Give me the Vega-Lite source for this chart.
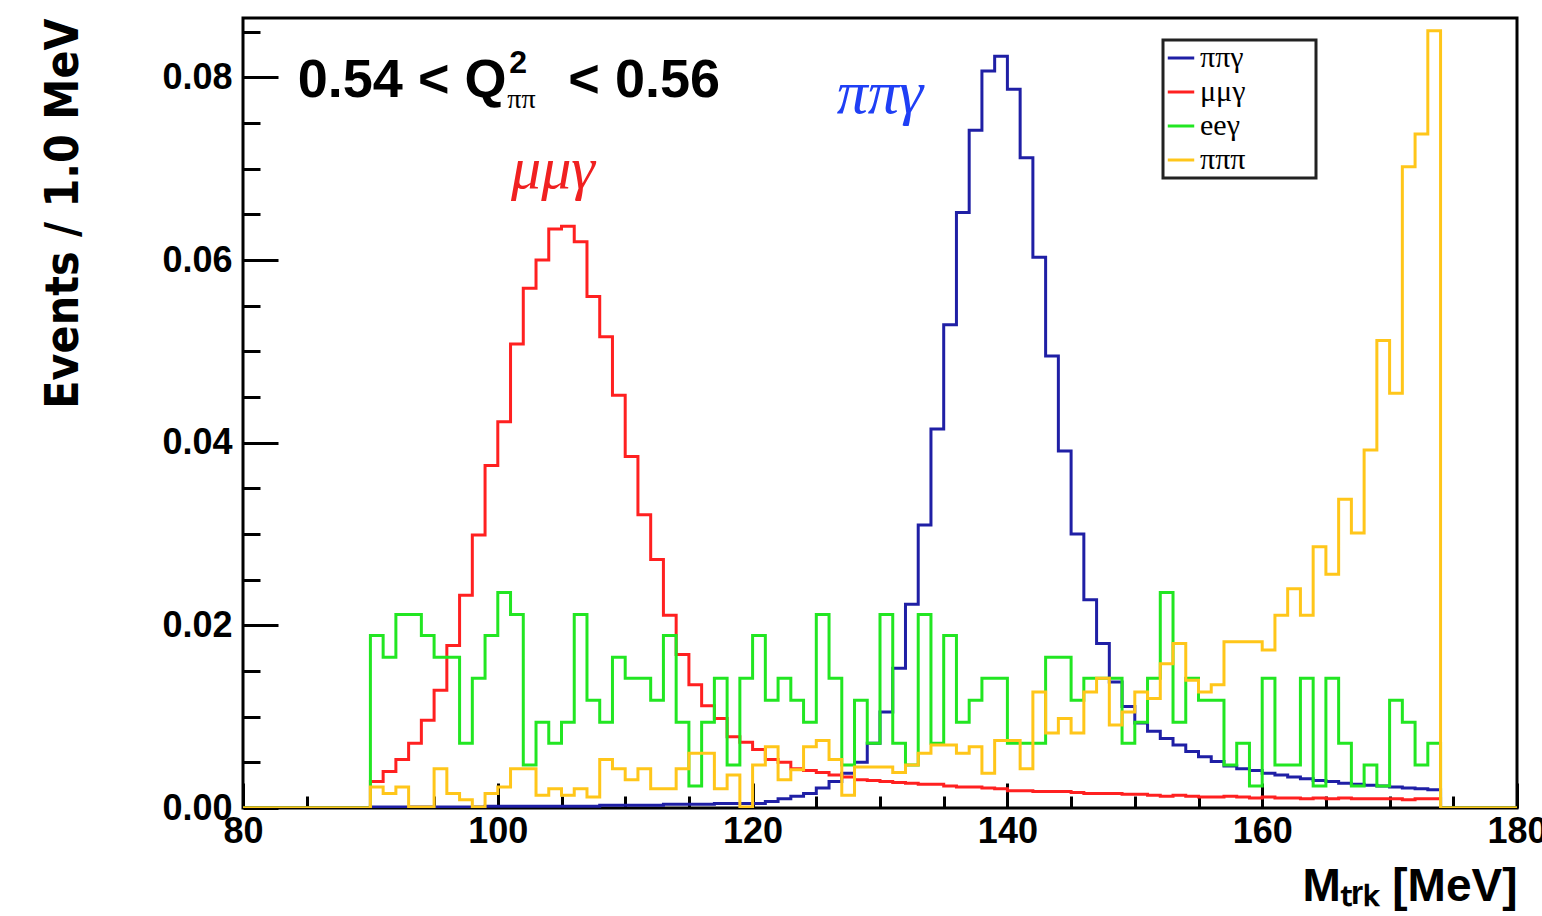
{
 "$schema": "https://vega.github.io/schema/vega-lite/v6.json",
 "width": 1274,
 "height": 790,
 "autosize": {"type": "none"},
 "padding": {"left": 243, "top": 18, "right": 25, "bottom": 108},
 "background": "white",
 "config": {"view": {"stroke": "black", "strokeWidth": 3}, "font": "Liberation Sans", "legend": {"strokeWidth": 3}},
 "datasets": {
  "hist": [
   {"x":80,"pipig":0,"mumug":0,"eeg":0,"pipipi":0},
   {"x":90,"pipig":0.0001,"mumug":0.0029,"eeg":0.0189,"pipipi":0.0023},
   {"x":91,"pipig":0.0001,"mumug":0.0040,"eeg":0.0165,"pipipi":0.0016},
   {"x":92,"pipig":0.0001,"mumug":0.0053,"eeg":0.0212,"pipipi":0.0023},
   {"x":93,"pipig":0.0001,"mumug":0.0071,"eeg":0.0212,"pipipi":0.0001},
   {"x":94,"pipig":0.0001,"mumug":0.0096,"eeg":0.0189,"pipipi":0.0001},
   {"x":95,"pipig":0.0001,"mumug":0.0129,"eeg":0.0165,"pipipi":0.0043},
   {"x":96,"pipig":0.0001,"mumug":0.0178,"eeg":0.0165,"pipipi":0.0016},
   {"x":97,"pipig":0.0001,"mumug":0.0233,"eeg":0.0071,"pipipi":0.0009},
   {"x":98,"pipig":0.0001,"mumug":0.0299,"eeg":0.0142,"pipipi":0.0001},
   {"x":99,"pipig":0.0002,"mumug":0.0375,"eeg":0.0189,"pipipi":0.0016},
   {"x":100,"pipig":0.0002,"mumug":0.0423,"eeg":0.0236,"pipipi":0.0023},
   {"x":101,"pipig":0.0002,"mumug":0.0508,"eeg":0.0212,"pipipi":0.0043},
   {"x":102,"pipig":0.0002,"mumug":0.0569,"eeg":0.0047,"pipipi":0.0043},
   {"x":103,"pipig":0.0002,"mumug":0.0600,"eeg":0.0094,"pipipi":0.0014},
   {"x":104,"pipig":0.0002,"mumug":0.0634,"eeg":0.0071,"pipipi":0.0021},
   {"x":105,"pipig":0.0002,"mumug":0.0637,"eeg":0.0094,"pipipi":0.0014},
   {"x":106,"pipig":0.0002,"mumug":0.0620,"eeg":0.0212,"pipipi":0.0021},
   {"x":107,"pipig":0.0002,"mumug":0.0560,"eeg":0.0118,"pipipi":0.0012},
   {"x":108,"pipig":0.0003,"mumug":0.0516,"eeg":0.0094,"pipipi":0.0053},
   {"x":109,"pipig":0.0003,"mumug":0.0452,"eeg":0.0165,"pipipi":0.0043},
   {"x":110,"pipig":0.0003,"mumug":0.0385,"eeg":0.0142,"pipipi":0.0031},
   {"x":111,"pipig":0.0003,"mumug":0.0321,"eeg":0.0142,"pipipi":0.0043},
   {"x":112,"pipig":0.0003,"mumug":0.0272,"eeg":0.0118,"pipipi":0.0021},
   {"x":113,"pipig":0.0004,"mumug":0.0211,"eeg":0.0189,"pipipi":0.0021},
   {"x":114,"pipig":0.0004,"mumug":0.0168,"eeg":0.0094,"pipipi":0.0043},
   {"x":115,"pipig":0.0004,"mumug":0.0135,"eeg":0.0024,"pipipi":0.0060},
   {"x":116,"pipig":0.0004,"mumug":0.0112,"eeg":0.0094,"pipipi":0.0060},
   {"x":117,"pipig":0.0005,"mumug":0.0098,"eeg":0.0142,"pipipi":0.0021},
   {"x":118,"pipig":0.0005,"mumug":0.0078,"eeg":0.0047,"pipipi":0.0036},
   {"x":119,"pipig":0.0005,"mumug":0.0072,"eeg":0.0142,"pipipi":0.0001},
   {"x":120,"pipig":0.0005,"mumug":0.0064,"eeg":0.0189,"pipipi":0.0047},
   {"x":121,"pipig":0.0007,"mumug":0.0053,"eeg":0.0118,"pipipi":0.0067},
   {"x":122,"pipig":0.0010,"mumug":0.0050,"eeg":0.0142,"pipipi":0.0031},
   {"x":123,"pipig":0.0013,"mumug":0.0043,"eeg":0.0118,"pipipi":0.0042},
   {"x":124,"pipig":0.0016,"mumug":0.0041,"eeg":0.0094,"pipipi":0.0067},
   {"x":125,"pipig":0.0022,"mumug":0.0039,"eeg":0.0212,"pipipi":0.0074},
   {"x":126,"pipig":0.0029,"mumug":0.0036,"eeg":0.0142,"pipipi":0.0053},
   {"x":127,"pipig":0.0038,"mumug":0.0034,"eeg":0.0047,"pipipi":0.0014},
   {"x":128,"pipig":0.0050,"mumug":0.0031,"eeg":0.0118,"pipipi":0.0045},
   {"x":129,"pipig":0.0071,"mumug":0.0030,"eeg":0.0071,"pipipi":0.0045},
   {"x":130,"pipig":0.0105,"mumug":0.0029,"eeg":0.0212,"pipipi":0.0045},
   {"x":131,"pipig":0.0153,"mumug":0.0028,"eeg":0.0071,"pipipi":0.0039},
   {"x":132,"pipig":0.0223,"mumug":0.0027,"eeg":0.0047,"pipipi":0.0047},
   {"x":133,"pipig":0.0310,"mumug":0.0026,"eeg":0.0212,"pipipi":0.0060},
   {"x":134,"pipig":0.0415,"mumug":0.0026,"eeg":0.0071,"pipipi":0.0069},
   {"x":135,"pipig":0.0529,"mumug":0.0024,"eeg":0.0189,"pipipi":0.0069},
   {"x":136,"pipig":0.0652,"mumug":0.0023,"eeg":0.0094,"pipipi":0.0060},
   {"x":137,"pipig":0.0742,"mumug":0.0023,"eeg":0.0118,"pipipi":0.0067},
   {"x":138,"pipig":0.0807,"mumug":0.0022,"eeg":0.0142,"pipipi":0.0038},
   {"x":139,"pipig":0.0823,"mumug":0.0021,"eeg":0.0142,"pipipi":0.0074},
   {"x":140,"pipig":0.0787,"mumug":0.0019,"eeg":0.0071,"pipipi":0.0074},
   {"x":141,"pipig":0.0712,"mumug":0.0019,"eeg":0.0071,"pipipi":0.0043},
   {"x":142,"pipig":0.0603,"mumug":0.0018,"eeg":0.0071,"pipipi":0.0127},
   {"x":143,"pipig":0.0495,"mumug":0.0018,"eeg":0.0165,"pipipi":0.0082},
   {"x":144,"pipig":0.0391,"mumug":0.0018,"eeg":0.0165,"pipipi":0.0098},
   {"x":145,"pipig":0.0300,"mumug":0.0017,"eeg":0.0118,"pipipi":0.0082},
   {"x":146,"pipig":0.0228,"mumug":0.0016,"eeg":0.0142,"pipipi":0.0127},
   {"x":147,"pipig":0.0180,"mumug":0.0016,"eeg":0.0142,"pipipi":0.0142},
   {"x":148,"pipig":0.0138,"mumug":0.0016,"eeg":0.0142,"pipipi":0.0091},
   {"x":149,"pipig":0.0111,"mumug":0.0015,"eeg":0.0071,"pipipi":0.0105},
   {"x":150,"pipig":0.0093,"mumug":0.0015,"eeg":0.0094,"pipipi":0.0127},
   {"x":151,"pipig":0.0084,"mumug":0.0014,"eeg":0.0142,"pipipi":0.0120},
   {"x":152,"pipig":0.0076,"mumug":0.0013,"eeg":0.0236,"pipipi":0.0158},
   {"x":153,"pipig":0.0069,"mumug":0.0014,"eeg":0.0094,"pipipi":0.0180},
   {"x":154,"pipig":0.0062,"mumug":0.0013,"eeg":0.0142,"pipipi":0.0140},
   {"x":155,"pipig":0.0056,"mumug":0.0012,"eeg":0.0118,"pipipi":0.0127},
   {"x":156,"pipig":0.0051,"mumug":0.0012,"eeg":0.0118,"pipipi":0.0135},
   {"x":157,"pipig":0.0046,"mumug":0.0013,"eeg":0.0047,"pipipi":0.0182},
   {"x":158,"pipig":0.0043,"mumug":0.0012,"eeg":0.0071,"pipipi":0.0182},
   {"x":159,"pipig":0.0041,"mumug":0.0011,"eeg":0.0024,"pipipi":0.0182},
   {"x":160,"pipig":0.0038,"mumug":0.0012,"eeg":0.0142,"pipipi":0.0173},
   {"x":161,"pipig":0.0036,"mumug":0.0011,"eeg":0.0047,"pipipi":0.0211},
   {"x":162,"pipig":0.0034,"mumug":0.0011,"eeg":0.0047,"pipipi":0.0240},
   {"x":163,"pipig":0.0032,"mumug":0.0010,"eeg":0.0142,"pipipi":0.0211},
   {"x":164,"pipig":0.0030,"mumug":0.0011,"eeg":0.0024,"pipipi":0.0286},
   {"x":165,"pipig":0.0029,"mumug":0.0010,"eeg":0.0142,"pipipi":0.0256},
   {"x":166,"pipig":0.0027,"mumug":0.0011,"eeg":0.0071,"pipipi":0.0338},
   {"x":167,"pipig":0.0026,"mumug":0.0010,"eeg":0.0024,"pipipi":0.0301},
   {"x":168,"pipig":0.0025,"mumug":0.0010,"eeg":0.0047,"pipipi":0.0392},
   {"x":169,"pipig":0.0024,"mumug":0.0010,"eeg":0.0024,"pipipi":0.0512},
   {"x":170,"pipig":0.0023,"mumug":0.0010,"eeg":0.0118,"pipipi":0.0454},
   {"x":171,"pipig":0.0022,"mumug":0.0009,"eeg":0.0094,"pipipi":0.0702},
   {"x":172,"pipig":0.0021,"mumug":0.0010,"eeg":0.0047,"pipipi":0.0738},
   {"x":173,"pipig":0.0020,"mumug":0.0010,"eeg":0.0071,"pipipi":0.0851},
   {"x":174,"pipig":0,"mumug":0,"eeg":0,"pipipi":0},
   {"x":180,"pipig":0,"mumug":0,"eeg":0,"pipipi":0}
  ]
 },
 "layer": [
  {
   "data": {"name": "hist"},
   "transform": [{"fold": ["pipig","mumug","eeg","pipipi"], "as": ["s","v"]}, {"filter": "datum.s === 'pipig'"}],
   "mark": {"type": "line", "interpolate": "step-after", "strokeWidth": 3, "clip": true},
   "encoding": {
    "x": {"field": "x", "type": "quantitative",
     "scale": {"domain": [80,180], "nice": false, "zero": false},
     "axis": {
      "title": "Mₜᵣₖ [MeV]",
      "values": [80,85,90,95,100,105,110,115,120,125,130,135,140,145,150,155,160,165,170,175,180],
      "format": "d",
      "labelExpr": "datum.value % 20 === 0 ? datum.label : ''",
      "labelFont": "Liberation Sans", "labelFontWeight": "bold", "labelFontSize": 36, "labelColor": "black",
      "labelPadding": 31, "labelFlush": false, "labelOverlap": false,
      "ticks": true, "tickSize": {"expr": "round(datum.value) % 20 === 0 ? -25 : -12"}, "tickWidth": 3, "tickColor": "black",
      "domain": false, "grid": false,
      "titleFont": "Liberation Sans", "titleFontWeight": "bold", "titleFontSize": 46, "titleColor": "black",
      "titleAnchor": "end", "titleAlign": "right", "titlePadding": 2
     }
    },
    "y": {"field": "v", "type": "quantitative",
     "scale": {"domain": [0, 0.0865], "nice": false, "zero": true},
     "axis": {
      "title": "Events / 1.0 MeV",
      "values": [0,0.005,0.01,0.015,0.02,0.025,0.03,0.035,0.04,0.045,0.05,0.055,0.06,0.065,0.07,0.075,0.08,0.085],
      "labelExpr": "round(datum.value*1000) % 20 === 0 ? format(datum.value, '.2f') : ''",
      "labelFont": "Liberation Sans", "labelFontWeight": "bold", "labelFontSize": 36, "labelColor": "black",
      "labelPadding": 46, "labelOverlap": false, "labelFlush": false,
      "ticks": true, "tickSize": {"expr": "round(datum.value*1000) % 20 === 0 ? -35 : -17"}, "tickWidth": 3, "tickColor": "black",
      "domain": false, "grid": false,
      "titleFont": "Liberation Sans Narrow, DejaVu Sans Condensed, Liberation Sans", "titleFontWeight": "bold", "titleFontSize": 46, "titleColor": "black",
      "titleAnchor": "end", "titlePadding": 74
     }
    },
    "color": {"field": "s", "type": "nominal",
     "scale": {"domain": ["pipig","mumug","eeg","pipipi"], "range": ["#1f1fa5","#ff2020","#22e622","#ffc61a"]},
     "legend": {
      "orient": "none", "legendX": 920, "legendY": 22, "title": null, "direction": "vertical",
      "symbolType": "stroke", "symbolStrokeWidth": 3, "symbolSize": 700,
      "labelFont": "Liberation Serif", "labelFontSize": 30, "labelColor": "black", "labelOffset": 4,
      "labelExpr": "(datum.label === 'pipig' ? 'ππγ' : datum.label === 'mumug' ? 'μμγ' : datum.label === 'eeg' ? 'eeγ' : 'πππ') + '\u00a0\u00a0\u00a0\u00a0\u00a0\u00a0\u2800'",
      "strokeColor": "#222222", "fillColor": "white", "padding": 3, "rowPadding": 4, "cornerRadius": 0
     }
    }
   }
  },
  {
   "data": {"name": "hist"},
   "transform": [{"fold": ["pipig","mumug","eeg","pipipi"], "as": ["s","v"]}, {"filter": "datum.s === 'mumug'"}],
   "mark": {"type": "line", "interpolate": "step-after", "strokeWidth": 3, "clip": true},
   "encoding": {
    "x": {"field": "x", "type": "quantitative"},
    "y": {"field": "v", "type": "quantitative"},
    "color": {"field": "s", "type": "nominal"}
   }
  },
  {
   "data": {"name": "hist"},
   "transform": [{"fold": ["pipig","mumug","eeg","pipipi"], "as": ["s","v"]}, {"filter": "datum.s === 'eeg'"}],
   "mark": {"type": "line", "interpolate": "step-after", "strokeWidth": 3, "clip": true},
   "encoding": {
    "x": {"field": "x", "type": "quantitative"},
    "y": {"field": "v", "type": "quantitative"},
    "color": {"field": "s", "type": "nominal"}
   }
  },
  {
   "data": {"name": "hist"},
   "transform": [{"fold": ["pipig","mumug","eeg","pipipi"], "as": ["s","v"]}, {"filter": "datum.s === 'pipipi'"}],
   "mark": {"type": "line", "interpolate": "step-after", "strokeWidth": 3, "clip": true},
   "encoding": {
    "x": {"field": "x", "type": "quantitative"},
    "y": {"field": "v", "type": "quantitative"},
    "color": {"field": "s", "type": "nominal"}
   }
  },
  {
   "data": {"values": [{}]},
   "mark": {"type": "text", "font": "Liberation Sans", "fontWeight": "bold", "fontSize": 54, "align": "left", "baseline": "alphabetic", "color": "black"},
   "encoding": {"x": {"datum": 84.3, "type": "quantitative"}, "y": {"datum": 0.0779, "type": "quantitative"}, "text": {"value": "0.54 < Q"}}
  },
  {
   "data": {"values": [{}]},
   "mark": {"type": "text", "font": "Liberation Sans", "fontWeight": "bold", "fontSize": 32, "align": "left", "baseline": "alphabetic", "color": "black"},
   "encoding": {"x": {"datum": 100.9, "type": "quantitative"}, "y": {"datum": 0.0805, "type": "quantitative"}, "text": {"value": "2"}}
  },
  {
   "data": {"values": [{}]},
   "mark": {"type": "text", "font": "Liberation Serif", "fontSize": 28, "align": "left", "baseline": "alphabetic", "color": "black"},
   "encoding": {"x": {"datum": 100.75, "type": "quantitative"}, "y": {"datum": 0.0766, "type": "quantitative"}, "text": {"value": "ππ"}}
  },
  {
   "data": {"values": [{}]},
   "mark": {"type": "text", "font": "Liberation Sans", "fontWeight": "bold", "fontSize": 54, "align": "right", "baseline": "alphabetic", "color": "black"},
   "encoding": {"x": {"datum": 117.44, "type": "quantitative"}, "y": {"datum": 0.0779, "type": "quantitative"}, "text": {"value": "< 0.56"}}
  },
  {
   "data": {"values": [{}]},
   "mark": {"type": "text", "font": "Liberation Serif", "fontStyle": "italic", "fontSize": 62, "align": "center", "baseline": "alphabetic", "color": "#1f3ff5"},
   "encoding": {"x": {"datum": 130.0, "type": "quantitative"}, "y": {"datum": 0.0761, "type": "quantitative"}, "text": {"value": "ππγ"}}
  },
  {
   "data": {"values": [{}]},
   "mark": {"type": "text", "font": "Liberation Serif", "fontStyle": "italic", "fontSize": 60, "align": "center", "baseline": "alphabetic", "color": "#f02020"},
   "encoding": {"x": {"datum": 104.33, "type": "quantitative"}, "y": {"datum": 0.0679, "type": "quantitative"}, "text": {"value": "μμγ"}}
  }
 ]
}
